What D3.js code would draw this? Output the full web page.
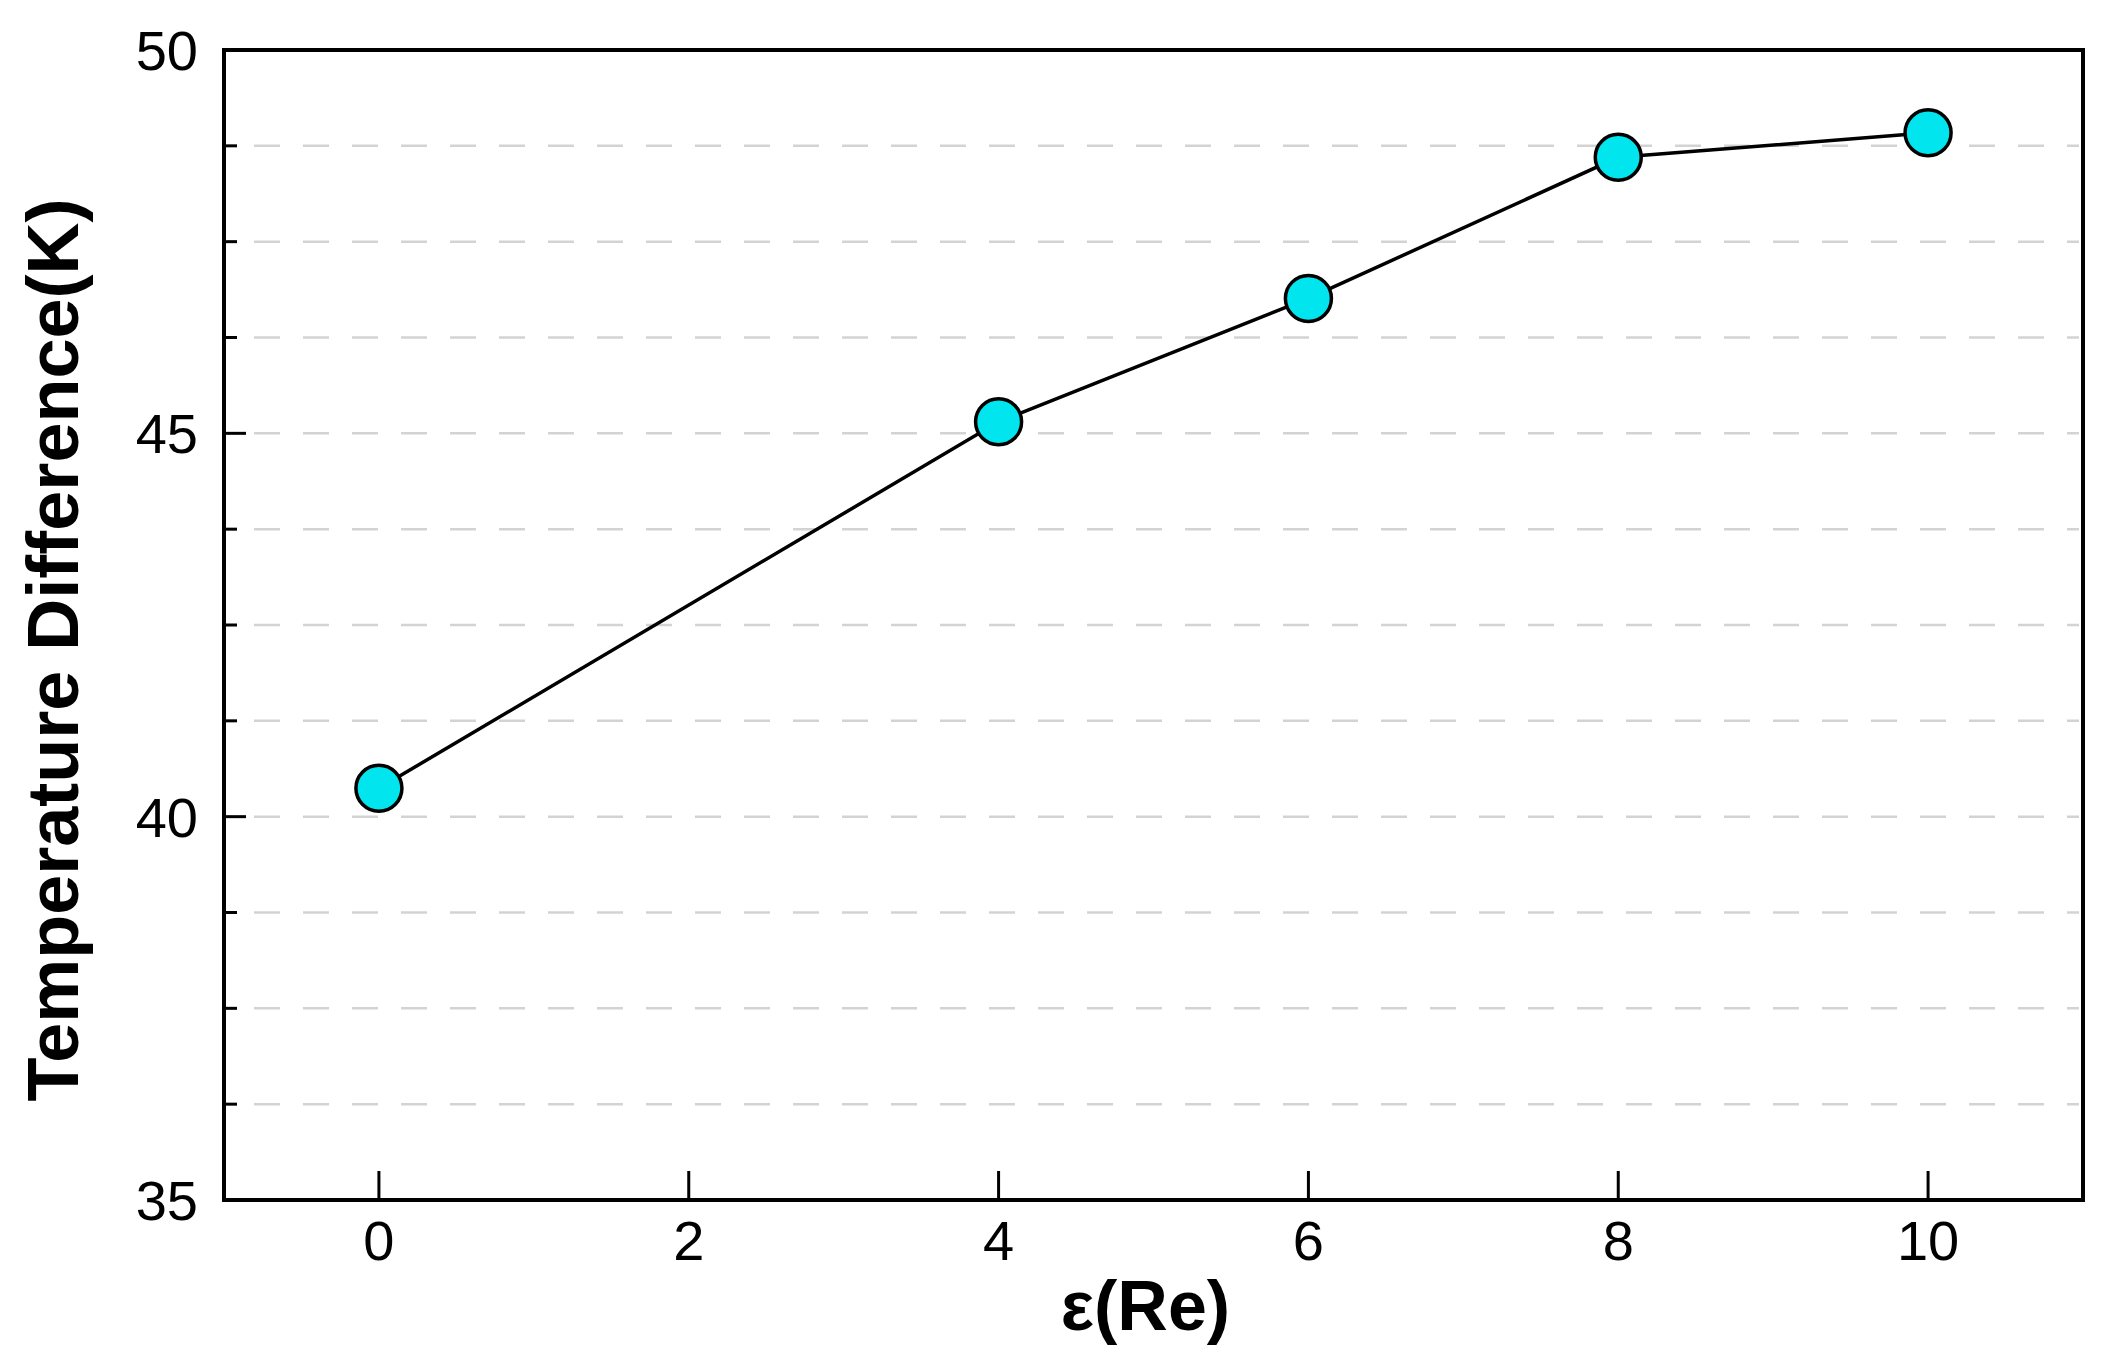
<!DOCTYPE html>
<html><head><meta charset="utf-8">
<script src="https://cdn.jsdelivr.net/npm/d3@7"></script>
<style>body{margin:0;background:#fff}</style>
</head><body><svg id="c" width="2120" height="1367"></svg>
<script>
const xValues = [0, 4, 6, 8, 10];
const yValues = [40.37, 45.15, 46.76, 48.6, 48.92];
const xTicks = [0, 2, 4, 6, 8, 10];
const yMajor = [35, 40, 45, 50];
const yMinor = [36.25, 37.5, 38.75, 40, 41.25, 42.5, 43.75, 45, 46.25, 47.5, 48.75];
const xTitle = "ε(Re)";
const yTitle = "Temperature Difference(K)";

const L=224,R=2083,T=50,B=1200;
const svg=d3.select("#c");
const x=d3.scaleLinear().domain([-1,11]).range([L,R]);
const y=d3.scaleLinear().domain([35,50]).range([B,T]);
const font="Liberation Sans, Arial, sans-serif";

svg.append("g").selectAll("line").data(yMinor).join("line")
  .attr("x1",L+30).attr("x2",R-4).attr("y1",d=>y(d)).attr("y2",d=>y(d))
  .attr("stroke","#d3d3d3").attr("stroke-width",2.5).attr("stroke-dasharray","26,23");

svg.append("g").selectAll("line").data(yMinor.filter(d=>!yMajor.includes(d))).join("line")
  .attr("x1",L).attr("x2",L+13).attr("y1",d=>y(d)).attr("y2",d=>y(d)).attr("stroke","#000").attr("stroke-width",3);
svg.append("g").selectAll("line").data(yMajor).join("line")
  .attr("x1",L).attr("x2",L+22).attr("y1",d=>y(d)).attr("y2",d=>y(d)).attr("stroke","#000").attr("stroke-width",3);
svg.append("g").selectAll("line").data(xTicks).join("line")
  .attr("x1",d=>x(d)).attr("x2",d=>x(d)).attr("y1",B).attr("y2",B-29).attr("stroke","#000").attr("stroke-width",3);

svg.append("rect").attr("x",L).attr("y",T).attr("width",R-L).attr("height",B-T)
  .attr("fill","none").attr("stroke","#000").attr("stroke-width",4);

svg.append("g").selectAll("text").data(yMajor).join("text")
  .attr("x",L-26).attr("y",d=>y(d)+20).attr("text-anchor","end")
  .attr("font-family",font).attr("font-size",56).text(d=>d);
svg.append("g").selectAll("text").data(xTicks).join("text")
  .attr("x",d=>x(d)).attr("y",B+60).attr("text-anchor","middle")
  .attr("font-family",font).attr("font-size",56).text(d=>d);

svg.append("text").attr("x",(L+R)/2-8).attr("y",1330).attr("text-anchor","middle")
  .attr("font-family",font).attr("font-weight","bold").attr("font-size",70).text(xTitle);
svg.append("text").attr("transform",`translate(78,${(T+B)/2+25}) rotate(-90)`).attr("text-anchor","middle")
  .attr("font-family",font).attr("font-weight","bold").attr("font-size",72).text(yTitle);

const pts=xValues.map((v,i)=>[v,yValues[i]]);
svg.append("path").datum(pts).attr("fill","none").attr("stroke","#000").attr("stroke-width",3.5)
  .attr("d",d3.line().x(d=>x(d[0])).y(d=>y(d[1])));
svg.append("g").selectAll("circle").data(pts).join("circle")
  .attr("cx",d=>x(d[0])).attr("cy",d=>y(d[1])).attr("r",23)
  .attr("fill","#00e5ee").attr("stroke","#000").attr("stroke-width",3.5);
</script></body></html>
